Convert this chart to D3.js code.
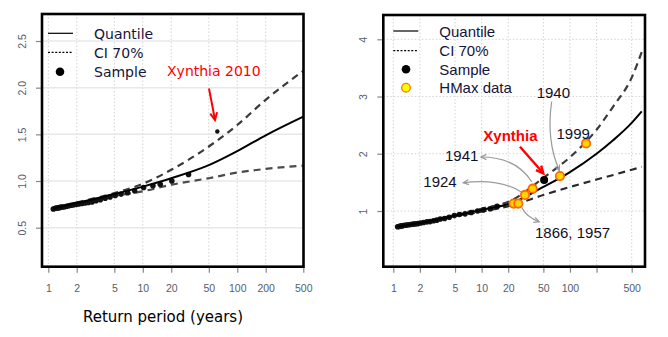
<!DOCTYPE html>
<html><head><meta charset="utf-8">
<script src="https://cdn.jsdelivr.net/npm/d3@7"></script>
<style>
html,body{margin:0;padding:0;background:#fff;}
svg{display:block;}
</style></head>
<body>
<svg id="c" width="668" height="337"></svg>
<script>
// ---------- Data ----------
// Left panel
const leftCurveT     = [1.13, 2, 5, 10, 20, 50, 100, 200, 500];
const leftQuantile   = [0.705, 0.765, 0.86, 0.94, 1.03, 1.17, 1.32, 1.49, 1.69];
const leftUpper      = [0.705, 0.77, 0.87, 0.97, 1.12, 1.37, 1.60, 1.87, 2.18];
const leftLower      = [0.705, 0.76, 0.84, 0.89, 0.96, 1.03, 1.09, 1.13, 1.165];
const leftSampleT    = [1.13,1.17,1.21,1.26,1.31,1.36,1.42,1.49,1.56,1.65,1.74,1.85,1.97,2.1,2.26,2.44,2.65,2.9,3.2,3.55,4.0,4.5,5.1,5.9,6.9,8.2,10.2,12.8,15.3,20.3,30.5];
const leftSampleV    = [0.70,0.705,0.71,0.712,0.715,0.72,0.722,0.725,0.73,0.735,0.74,0.745,0.75,0.755,0.76,0.765,0.77,0.775,0.79,0.80,0.815,0.83,0.845,0.86,0.875,0.895,0.93,0.95,0.965,1.0,1.07];
const leftXynthia    = {T: 61.5, v: 1.53, label: "Xynthia 2010"};
const leftXTicks     = [1, 2, 5, 10, 20, 50, 100, 200, 500];
const leftYTicks     = [0.5, 1.0, 1.5, 2.0, 2.5];
const leftYLabels    = ["0.5", "1.0", "1.5", "2.0", "2.5"];

// Right panel
const rightCurveT    = [1.1, 2, 5, 10, 22, 50, 100, 200, 310, 500, 650];
const rightQuantile  = [0.73, 0.79, 0.92, 1.02, 1.14, 1.42, 1.68, 2.00, 2.24, 2.54, 2.74];
const rightUpper     = [0.73, 0.795, 0.93, 1.04, 1.19, 1.58, 1.94, 2.42, 2.83, 3.33, 3.78];
const rightLower     = [0.73, 0.785, 0.91, 0.99, 1.10, 1.28, 1.42, 1.55, 1.63, 1.72, 1.77];
const rightSampleT   = [1.12,1.16,1.2,1.25,1.3,1.36,1.42,1.5,1.58,1.67,1.77,1.9,2.03,2.2,2.4,2.6,2.85,3.1,3.4,3.8,4.3,4.9,5.6,6.5,7.6,9.0,10.5,12.5,15.0];
const rightSampleV   = [0.725,0.73,0.735,0.74,0.745,0.75,0.755,0.76,0.765,0.77,0.775,0.78,0.79,0.80,0.81,0.815,0.83,0.84,0.86,0.87,0.89,0.92,0.94,0.95,0.975,1.0,1.02,1.04,1.08];
const rightXynthia   = {T: 51, v: 1.54, label: "Xynthia"};
const hmaxYears      = ["1866", "1957", "1924", "1941", "1940", "1999"];
const hmaxT          = [23, 26, 31, 37.8, 77, 152];
const hmaxV          = [1.13, 1.13, 1.28, 1.39, 1.61, 2.18];
const rightXTicks    = [1, 2, 5, 10, 20, 50, 100, 200, 500];
const rightXLabels   = ["1", "2", "5", "10", "20", "50", "100", "", "500"];
const rightYTicks    = [1, 2, 3, 4];

const legendLeft  = ["Quantile", "CI 70%", "Sample"];
const legendRight = ["Quantile", "CI 70%", "Sample", "HMax data"];
const xTitle = "Return period (years)";

// ---------- Drawing ----------
const svg = d3.select("#c");
const tickFont = "'Liberation Sans', Arial, sans-serif";
const tickColor = "#555d6d";
const legendColor = "#14143c";

function panel(cfg) {
  const g = svg.append("g");
  const x = d3.scaleLog().domain([1, 500]).range(cfg.xr);
  const y = d3.scaleLinear().domain(cfg.yd).range(cfg.yr);
  const [bx0, by0, bx1, by1] = cfg.box;

  const grid = g.append("g");
  grid.selectAll(".vg").data(cfg.xTicks).join("line")
    .attr("x1", d => x(d)).attr("x2", d => x(d)).attr("y1", by0).attr("y2", by1)
    .attr("stroke", "#d4d4d4").attr("stroke-width", 1).attr("stroke-dasharray", "1.5,2");
  grid.selectAll(".hg").data(cfg.yTicks).join("line")
    .attr("x1", bx0).attr("x2", bx1).attr("y1", d => y(d)).attr("y2", d => y(d))
    .attr("stroke", cfg.hGridSolid ? "#e8e8e8" : "#d4d4d4")
    .attr("stroke-width", cfg.hGridSolid ? 1.5 : 1)
    .attr("stroke-dasharray", cfg.hGridSolid ? null : "1.5,2");

  const xa = g.append("g").attr("transform", `translate(0,${by1})`)
    .call(d3.axisBottom(x).tickValues(cfg.xTicks).tickSize(6).tickPadding(12)
      .tickFormat((d, i) => cfg.xLabels[i]));
  const ya = g.append("g").attr("transform", `translate(${bx0},0)`)
    .call(d3.axisLeft(y).tickValues(cfg.yTicks).tickSize(6)
      .tickFormat((d, i) => cfg.yLabels[i]));
  [xa, ya].forEach(a => {
    a.select(".domain").remove();
    a.selectAll("line").attr("stroke", "#888").attr("stroke-width", 1.2);
    a.selectAll("text").attr("fill", tickColor).style("font-family", tickFont).style("font-size", "10.5px");
  });
  ya.selectAll("text").attr("x", 0).attr("dy", 0).attr("text-anchor", "middle")
    .attr("transform", "translate(-16.5,0) rotate(-90)");

  const line = d3.line().x(d => x(d[0])).y(d => y(d[1])).curve(d3.curveMonotoneX);
  const cg = g.append("g");
  const zip = (a, b) => a.map((t, i) => [t, b[i]]);
  cg.append("path").datum(zip(cfg.curveT, cfg.upper)).attr("d", line)
    .attr("fill", "none").attr("stroke", "#3a3a3a").attr("stroke-width", 2.2).attr("stroke-dasharray", "7,5");
  cg.append("path").datum(zip(cfg.curveT, cfg.lower)).attr("d", line)
    .attr("fill", "none").attr("stroke", cfg.lowerColor).attr("stroke-width", 2.2).attr("stroke-dasharray", "7,5");
  cg.selectAll(".s").data(zip(cfg.sampleT, cfg.sampleV)).join("circle")
    .attr("cx", d => x(d[0])).attr("cy", d => y(d[1])).attr("r", 2.8).attr("fill", "#111");
  cg.append("path").datum(zip(cfg.curveT, cfg.quantile)).attr("d", line)
    .attr("fill", "none").attr("stroke", "#000").attr("stroke-width", 2);

  g.append("rect").attr("x", bx0).attr("y", by0).attr("width", bx1 - bx0).attr("height", by1 - by0)
    .attr("fill", "none").attr("stroke", "#000").attr("stroke-width", 2.6);

  return {g, x, y};
}

function arrowHead(g, x1, y1, x2, y2, len, color, w) {
  const a = Math.atan2(y2 - y1, x2 - x1);
  const s = 0.45;
  const p = `M${x2 - len * Math.cos(a - s)},${y2 - len * Math.sin(a - s)} L${x2},${y2} L${x2 - len * Math.cos(a + s)},${y2 - len * Math.sin(a + s)}`;
  g.append("path").attr("d", p).attr("fill", "none").attr("stroke", color).attr("stroke-width", w);
}

// ---- Left panel ----
const L = panel({
  xr: [48.3, 303.3], yd: [0.5, 2.5], yr: [227.7, 41], box: [42, 14, 303.5, 266.7],
  xTicks: leftXTicks, xLabels: leftXTicks.map(String), yTicks: leftYTicks, yLabels: leftYLabels,
  hGridSolid: true, curveT: leftCurveT, quantile: leftQuantile, upper: leftUpper, lower: leftLower,
  lowerColor: "#4a4a4a", sampleT: leftSampleT, sampleV: leftSampleV
});
L.g.append("circle").attr("cx", L.x(leftXynthia.T)).attr("cy", L.y(leftXynthia.v)).attr("r", 2.2).attr("fill", "#111");
const lf = "'DejaVu Sans', Verdana, sans-serif";
const llg = L.g.append("g");
llg.append("line").attr("x1", 48).attr("x2", 73).attr("y1", 33.3).attr("y2", 33.3).attr("stroke", "#000").attr("stroke-width", 1.2);
llg.append("line").attr("x1", 48).attr("x2", 73).attr("y1", 52.3).attr("y2", 52.3).attr("stroke", "#000").attr("stroke-width", 1.2).attr("stroke-dasharray", "2,1.6");
llg.append("circle").attr("cx", 60).attr("cy", 71.7).attr("r", 4.3).attr("fill", "#000");
llg.selectAll("text").data(legendLeft).join("text")
  .attr("x", 94).attr("y", (d, i) => [38.5, 57.5, 77][i]).text(d => d)
  .attr("fill", legendColor).style("font-family", lf).style("font-size", "14px");
L.g.append("text").attr("x", 167).attr("y", 76).text(leftXynthia.label)
  .attr("fill", "#ff0000").style("font-family", lf).style("font-size", "14px");
L.g.append("line").attr("x1", 209).attr("y1", 88.5).attr("x2", 215).attr("y2", 120).attr("stroke", "#ff0000").attr("stroke-width", 2);
arrowHead(L.g, 209, 88.5, 215, 120, 8, "#ff0000", 2);
svg.append("text").attr("x", 163).attr("y", 322).attr("text-anchor", "middle").text(xTitle)
  .attr("fill", "#000").style("font-family", lf).style("font-size", "15px");

// ---- Right panel ----
const R = panel({
  xr: [393.3, 631.7], yd: [1, 4], yr: [211, 39.3], box: [383.3, 15, 645, 266.7],
  xTicks: rightXTicks, xLabels: rightXLabels, yTicks: rightYTicks, yLabels: rightYTicks.map(String),
  hGridSolid: false, curveT: rightCurveT, quantile: rightQuantile, upper: rightUpper, lower: rightLower,
  lowerColor: "#2a2a2a", sampleT: rightSampleT, sampleV: rightSampleV
});
const af = "'Liberation Sans', Arial, sans-serif";
const ag = R.g.append("g");
const annPaths = [
  {d: [[551.7, 101.5], [546, 140], [559.3, 170.5]]},
  {d: [[531.7, 181.7], [516, 157], [481, 157]]},
  {d: [[522.7, 192.7], [500, 178], [463.3, 182.7]]},
  {d: [[521.7, 207.3], [526, 217], [539.3, 221.7]]}
];
annPaths.forEach(a => {
  const [p0, c, p1] = a.d;
  ag.append("path").attr("d", `M${p0[0]},${p0[1]} Q${c[0]},${c[1]} ${p1[0]},${p1[1]}`)
    .attr("fill", "none").attr("stroke", "#9a9a9a").attr("stroke-width", 1.2);
  arrowHead(ag, c[0], c[1], p1[0], p1[1], 6, "#9a9a9a", 1.2);
});
R.g.selectAll(".hm").data(hmaxT.map((t, i) => [t, hmaxV[i]])).join("circle")
  .attr("cx", d => R.x(d[0])).attr("cy", d => R.y(d[1])).attr("r", 4.2)
  .attr("fill", "#ffd400").attr("stroke", "#ff6a00").attr("stroke-width", 1.8);
R.g.append("circle").attr("cx", R.x(rightXynthia.T)).attr("cy", R.y(rightXynthia.v)).attr("r", 4).attr("fill", "#000");
const annLabels = [
  {t: "1940", x: 536.7, y: 98},
  {t: "1999", x: 556.5, y: 139},
  {t: "1941", x: 445, y: 160.5},
  {t: "1924", x: 423.3, y: 186.5},
  {t: "1866, 1957", x: 535, y: 238}
];
R.g.selectAll(".al").data(annLabels).join("text")
  .attr("x", d => d.x).attr("y", d => d.y).text(d => d.t)
  .attr("fill", "#101028").style("font-family", af).style("font-size", "15px");
R.g.append("text").attr("x", 483.3).attr("y", 140.5).text(rightXynthia.label)
  .attr("fill", "#ff0000").style("font-family", af).style("font-size", "15px").style("font-weight", "bold");
R.g.append("line").attr("x1", 520).attr("y1", 146.7).attr("x2", 543.3).attr("y2", 173.3).attr("stroke", "#ff0000").attr("stroke-width", 2.4);
arrowHead(R.g, 520, 146.7, 543.3, 173.3, 8, "#ff0000", 2.4);
const rlg = R.g.append("g");
rlg.append("line").attr("x1", 393.3).attr("x2", 418.3).attr("y1", 31).attr("y2", 31).attr("stroke", "#000").attr("stroke-width", 1.2);
rlg.append("line").attr("x1", 393.3).attr("x2", 418.3).attr("y1", 50.7).attr("y2", 50.7).attr("stroke", "#000").attr("stroke-width", 1.2).attr("stroke-dasharray", "2,1.6");
rlg.append("circle").attr("cx", 406).attr("cy", 69.3).attr("r", 4.3).attr("fill", "#000");
rlg.append("circle").attr("cx", 406).attr("cy", 87.7).attr("r", 4.3).attr("fill", "#ffff00").attr("stroke", "#ff7a00").attr("stroke-width", 1.3);
rlg.selectAll("text").data(legendRight).join("text")
  .attr("x", 439.3).attr("y", (d, i) => [36.5, 56.2, 74.8, 93.2][i]).text(d => d)
  .attr("fill", legendColor).style("font-family", af).style("font-size", "15px");
</script>
</body></html>
